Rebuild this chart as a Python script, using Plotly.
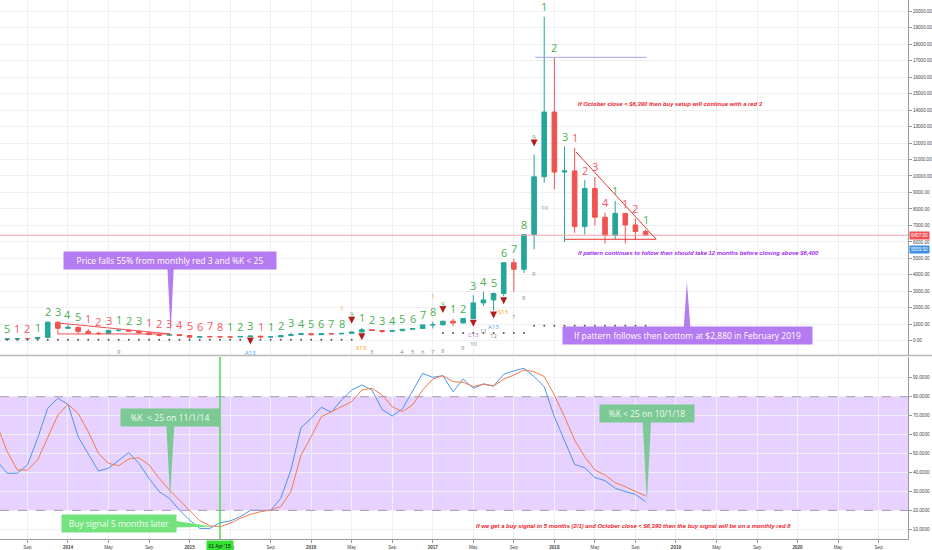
import plotly.graph_objects as go

# ---------------- data ----------------
month_idx = list(range(-7, 58))   # monthly bars, 0 = Jan 2014 (Jun 2013 .. Oct 2018)

opens = [129, 97, 106, 136, 133, 203, 1130, 755, 815, 570, 450, 445, 630, 640, 585, 480,
         387, 338, 375, 320, 217, 254, 244, 236, 230, 263, 284, 230, 236, 313, 377, 430,
         369, 437, 416, 448, 531, 673, 624, 574, 608, 700, 742, 963, 970, 1190, 1080, 1348,
         2300, 2480, 2870, 4735, 4340, 6450, 9950, 13880, 10240, 10310, 6930, 9240, 7500,
         6390, 7730, 7030, 6630]
highs = [130, 111, 139, 150, 215, 1163, 1163, 995, 860, 720, 550, 630, 680, 650, 600, 490,
         415, 457, 384, 320, 265, 300, 262, 248, 267, 316, 285, 245, 334, 502, 466, 463,
         447, 440, 468, 553, 780, 704, 626, 628, 720, 756, 975, 1153, 1200, 1350, 1350, 2760,
         2980, 2920, 4740, 4975, 6470, 11300, 19666, 17200, 11800, 11700, 9750, 9950, 7780,
         8490, 7750, 7410, 6750]
lows = [88, 65, 102, 100, 120, 197, 400, 730, 420, 440, 340, 420, 555, 565, 440, 375,
        275, 316, 300, 152, 212, 236, 213, 225, 221, 254, 162, 226, 235, 305, 350, 354,
        366, 395, 412, 439, 523, 604, 468, 567, 605, 678, 740, 752, 915, 890, 1060, 1340,
        2110, 1830, 2700, 2970, 4110, 5550, 9600, 9200, 6000, 6550, 6450, 7000, 5900,
        6150, 5900, 6120, 6350]
closes = [97, 106, 136, 133, 203, 1130, 755, 815, 570, 450, 445, 630, 640, 585, 480, 387,
          338, 375, 320, 217, 254, 244, 236, 230, 263, 284, 230, 236, 313, 377, 430, 369,
          437, 416, 448, 531, 673, 624, 574, 608, 700, 742, 963, 970, 1190, 1080, 1348, 2300,
          2480, 2870, 4735, 4340, 6450, 9950, 13880, 10240, 10310, 6930, 9240, 7500, 6390,
          7730, 7030, 6630, 6407]

stoch_k = [46, 39.6, 39.6, 44, 58, 73.9, 79.1, 76, 58.9, 50.1, 40.8, 42.2, 46.6, 50.5, 44.8,
           36.9, 29.9, 26.4, 20.2, 14.9, 10.5, 10.5, 13.5, 14.4, 16.7, 20, 20, 20, 26.4, 41.3,
           63.7, 68.6, 74.4, 71.8, 78.3, 83.5, 86.2, 83.5, 73.3, 69.8, 73.5, 82.6, 92.3, 90.2,
           91.1, 82.6, 89.3, 84.4, 86.7, 85.6, 91.8, 93.6, 95, 90.6, 85.3, 69.4, 57.1, 44.3,
           42.5, 37.3, 35.7, 31.7, 29.9, 28.5, 24.6]
stoch_d = [65, 51, 41.3, 41.3, 46.6, 58.9, 70.3, 76, 71.2, 61.5, 50.1, 44.8, 43.6, 47.1, 47.8,
           44, 36.9, 30.8, 25.5, 20.2, 14.6, 11.9, 11.4, 13.2, 15.8, 17.9, 19.3, 20.2, 22, 29.9,
           49.2, 58.9, 69.4, 72.1, 74.7, 77.4, 83.5, 84.4, 80.9, 74.7, 72.1, 75.6, 83.5, 89.3,
           91.1, 87.9, 87.6, 85.3, 86.7, 85.6, 89.3, 91.4, 94.1, 93.2, 90.6, 80.9, 69.4, 57.1,
           48.3, 41.3, 38.7, 34.6, 32.5, 30.2, 27.6]

# TD setup counts shown above the bars (g = sell-setup green, r = buy-setup red)
setup_text = ["", "5", "1", "2", "1", "2", "3", "4", "5", "1", "2", "3", "1", "2", "3",
              "1", "2", "3", "4", "5", "6", "7", "8", "1", "2", "3", "1", "1", "2", "3",
              "4", "5", "6", "7", "8", "", "1", "2", "3", "4", "5", "6", "7", "8", "",
              "1", "2", "3", "4", "5", "6", "7", "8", "", "1", "2", "3", "1", "2", "3",
              "4", "1", "1", "2", "1"]
setup_color = ["", "g", "r", "r", "g", "g", "g", "g", "g", "r", "r", "r", "g", "g", "g",
               "r", "r", "r", "r", "r", "r", "r", "r", "g", "g", "g", "r", "g", "g", "g",
               "g", "g", "g", "g", "g", "", "g", "g", "g", "g", "g", "g", "g", "g", "",
               "g", "g", "g", "g", "g", "g", "g", "g", "", "g", "g", "g", "r", "r", "r",
               "r", "g", "r", "r", "g"]

countdown_month = [5, 30, 33, 34, 35, 36, 37, 39, 40, 41, 42, 44, 45, 46, 47]
countdown_text = ["9", "3", "4", "5", "6", "7", "8", "9", "10", "11", "12", "7", "8", "9", "10"]
setup9_month = [28, 37, 46]
perfect_month = [27, 36]
signal13_month = [18, 29, 40, 42, 43]
signal13_text = ["A13", "S13", "C13", "A13", "S13"]
tdst_level = [65] * 36 + [None] * 8 + [468] * 9 + [915] * 12

tick_vals = list(range(-4, 81, 4))
tick_text = ["Sep", "<b>2014</b>", "May", "Sep", "<b>2015</b>", "May", "Sep", "<b>2016</b>",
             "May", "Sep", "<b>2017</b>", "May", "Sep", "<b>2018</b>", "May", "Sep",
             "<b>2019</b>", "May", "Sep", "<b>2020</b>", "May", "Sep"]
price_ticks = list(range(0, 20001, 1000))
stoch_ticks = list(range(10, 91, 10))
last_price = 6407.00
level_price = 5559.50

# ---------------- layout constants ----------------
W, H = 932, 550
X_RANGE = [-6.71, 82.9]
Y_RANGE = [-862, 20680]
S_RANGE = [4.9, 100.95]
XDOM = [0, 908 / 932]
MAIN_DOM = [0.3414, 1.0]
STO_DOM = [0.0, 0.3377]
PX = (Y_RANGE[1] - Y_RANGE[0]) / 355.0   # price units per pixel in main pane

GREEN = "#4caf50"
RED = "#ef5865"
FONT = "Open Sans"

pos = {m: i for i, m in enumerate(month_idx)}

fig = go.Figure()

fig.add_trace(go.Candlestick(
    x=month_idx, open=opens, high=highs, low=lows, close=closes,
    xaxis="x2", yaxis="y",
    increasing=dict(line=dict(color="#26a69a", width=1), fillcolor="#26a69a"),
    decreasing=dict(line=dict(color="#ef5350", width=1), fillcolor="#ef5350"),
    whiskerwidth=0, showlegend=False, hoverinfo="skip"))

# TDST dots
fig.add_trace(go.Scatter(x=month_idx, y=tdst_level, mode="markers", xaxis="x2", yaxis="y",
                         marker=dict(size=2, color="#555555"), showlegend=False, hoverinfo="skip"))

# arrows above setup 9 bars
fig.add_trace(go.Scatter(
    x=setup9_month, y=[highs[pos[m]] + 8 * PX for m in setup9_month],
    mode="markers", xaxis="x2", yaxis="y",
    marker=dict(symbol="arrow-down", size=7, color="#b71c1c"), showlegend=False, hoverinfo="skip"))
# arrows below 13 signals
fig.add_trace(go.Scatter(
    x=signal13_month, y=[lows[pos[m]] - 8 * PX for m in signal13_month],
    mode="markers", xaxis="x2", yaxis="y",
    marker=dict(symbol="arrow-down", size=7, color="#b71c1c"), showlegend=False, hoverinfo="skip"))

# stochastic
fig.add_trace(go.Scatter(x=month_idx, y=stoch_k, mode="lines", xaxis="x", yaxis="y2",
                         line=dict(color="#4f94ef", width=1), showlegend=False, hoverinfo="skip"))
fig.add_trace(go.Scatter(x=month_idx, y=stoch_d, mode="lines", xaxis="x", yaxis="y2",
                         line=dict(color="#f5794a", width=1), showlegend=False, hoverinfo="skip"))

ann = []
# setup numbers
for m, t, c in zip(month_idx, setup_text, setup_color):
    if t:
        ann.append(dict(x=m, y=highs[pos[m]], xref="x2", yref="y", text=t, showarrow=False,
                        yanchor="middle", yshift=10,
                        font=dict(family=FONT, size=11, color=GREEN if c == "g" else RED)))
for m in setup9_month:
    ann.append(dict(x=m, y=highs[pos[m]], xref="x2", yref="y", text="9", showarrow=False,
                    yanchor="middle", yshift=17, font=dict(family=FONT, size=6.5, color="#6f9f6f")))
for m in perfect_month:
    ann.append(dict(x=m, y=highs[pos[m]], xref="x2", yref="y", text="1", showarrow=False,
                    yanchor="middle", yshift=25, font=dict(family=FONT, size=6.5, color="#f0a030")))
for m, t in zip(countdown_month, countdown_text):
    yv = max(lows[pos[m]] - 25 * PX, Y_RANGE[0] + 3 * PX)
    ann.append(dict(x=m, y=yv, xref="x2", yref="y", text=t, showarrow=False,
                    yanchor="middle", font=dict(family=FONT, size=6, color="#8a8a8a")))
sig_col = {"A13": "#42a5f5", "S13": "#ff9800", "C13": "#ba68c8"}
for m, t in zip(signal13_month, signal13_text):
    ann.append(dict(x=m, y=lows[pos[m]], xref="x2", yref="y", text=t, showarrow=False,
                    yanchor="middle", yshift=-16, font=dict(family=FONT, size=6, color=sig_col[t])))

# callouts
def callout(x, y, text, bg, width, xref, yref, fc="#ffffff"):
    ann.append(dict(x=x, y=y, xref=xref, yref=yref, text=text, showarrow=False,
                    xanchor="center", yanchor="middle", bgcolor=bg, borderpad=3, width=width,
                    font=dict(family=FONT, size=8.5, color=fc)))

shapes = []
def wedge(pts, color, xref, yref):
    p = "M {},{} L {},{} L {},{} Z".format(pts[0][0], pts[0][1], pts[1][0], pts[1][1], pts[2][0], pts[2][1])
    shapes.append(dict(type="path", path=p, xref=xref, yref=yref, fillcolor=color,
                       line=dict(width=0), layer="above"))

PURPLE = "#b57bf2"
GBOX = "#7cc995"
GBRIGHT = "#73e37e"
wedge([(9.8, 4600), (10.45, 4600), (10.13, 410)], PURPLE, "x2", "y")
callout(10.07, 4842, "Price falls 55% from monthly red 3 and %K < 25", PURPLE, 206, "x2", "y")
wedge([(60.75, 600), (61.45, 600), (61.08, 3586)], PURPLE, "x2", "y")
callout(61.13, 334, "If pattern follows then bottom at $2,880 in February 2019", PURPLE, 243, "x2", "y")
wedge([(9.7, 66), (10.5, 66), (10.07, 26.4)], GBOX, "x", "y2")
callout(10.1, 68.84, "%K  < 25 on 11/1/14", GBOX, 92, "x", "y2", "#eefaf0")
wedge([(10.4, 14.6), (10.4, 11.0), (14.34, 11.4)], GBRIGHT, "x", "y2")
callout(5.05, 13.0, "Buy signal 5 months later", GBRIGHT, 108, "x", "y2", "#f4fff4")
wedge([(56.7, 68), (57.55, 68), (57.13, 24.6)], GBOX, "x", "y2")
callout(57.11, 71.06, "%K < 25 on 10/1/18", GBOX, 88, "x", "y2", "#eefaf0")

# italic notes
def note(x, y, text, color, xref, yref):
    ann.append(dict(x=x, y=y, xref=xref, yref=yref, text="<b><i>" + text + "</i></b>",
                    showarrow=False, xanchor="left", yanchor="middle",
                    font=dict(family="Liberation Sans", size=5.9, color=color)))

note(50.15, 14351, "If October close &lt; $6,390 then buy setup will continue with a red 3", "#f0202a", "x2", "y")
note(50.15, 5310, "If pattern continues to follow then should take 12 months before closing above $6,400", "#9b27f5", "x2", "y")
note(40.08, 11.93, "If we get a buy signal in 5 months (2/1) and October close &lt; $6,390 then the buy signal will be on a monthly red 8", "#f0202a", "x", "y2")

# price axis labels
ann.append(dict(x=XDOM[1], y=last_price, xref="paper", yref="y", text="{:.2f}".format(last_price),
                showarrow=False, xanchor="left", yanchor="middle", xshift=1, bgcolor="#f0525a",
                borderpad=1, font=dict(family="Liberation Sans", size=4.6, color="white")))
ann.append(dict(x=XDOM[1], y=level_price, xref="paper", yref="y", text="{:.2f}".format(level_price),
                showarrow=False, xanchor="left", yanchor="middle", xshift=1, bgcolor="#3d8fe0",
                borderpad=1, font=dict(family="Liberation Sans", size=4.6, color="white")))
# date label for the vertical marker
ann.append(dict(x=15, y=0, xref="x", yref="paper", text="01 Apr '15", showarrow=False,
                yanchor="top", yshift=-1, bgcolor="#33e233", borderpad=1.5,
                font=dict(family="Liberation Sans", size=5, color="#111111")))

# band & lines in stochastic pane
shapes.append(dict(type="rect", xref="x domain", yref="y2", x0=0, x1=1, y0=20, y1=80,
                   fillcolor="rgba(167,86,255,0.27)", line=dict(width=0), layer="below"))
for lv in (20, 80):
    shapes.append(dict(type="line", xref="x domain", yref="y2", x0=0, x1=1, y0=lv, y1=lv,
                       line=dict(color="#a896c0", width=1, dash="dash")))
shapes.append(dict(type="line", xref="x", yref="y2", x0=15, x1=15, y0=S_RANGE[0], y1=S_RANGE[1],
                   line=dict(color="#4ddd4d", width=1.5)))

# main pane drawings
shapes.append(dict(type="line", xref="x2 domain", yref="y", x0=0, x1=1, y0=last_price, y1=last_price,
                   line=dict(color="#f4a3ab", width=1)))
shapes.append(dict(type="line", xref="x2", yref="y", x0=46.1, x1=57.13, y0=highs[pos[48]], y1=highs[pos[48]],
                   line=dict(color="#a5a5ee", width=1)))
shapes.append(dict(type="line", xref="x2", yref="y", x0=50.15, x1=58.05, y0=11450, y1=6160,
                   line=dict(color="#e53935", width=1)))
shapes.append(dict(type="line", xref="x2", yref="y", x0=49.06, x1=58.05, y0=6160, y1=6160,
                   line=dict(color="#e53935", width=1)))
shapes.append(dict(type="line", xref="x2", yref="y", x0=-0.7, x1=10.07, y0=1062, y1=413,
                   line=dict(color="#f05050", width=1)))
shapes.append(dict(type="line", xref="x2", yref="y", x0=-1, x1=10.07, y0=413, y1=413,
                   line=dict(color="#f05050", width=1)))
# pane separator
shapes.append(dict(type="line", xref="paper", yref="paper", x0=0, x1=1, y0=0.3404, y1=0.3404,
                   line=dict(color="#b8b8b8", width=1.5)))

axis_common = dict(showgrid=True, gridcolor="#eef0f4", zeroline=False, showline=True,
                   linecolor="#9a9a9a", ticks="outside", ticklen=3, tickcolor="#9a9a9a",
                   tickfont=dict(family="Liberation Sans", size=4.6, color="#444444"))

fig.update_layout(
    width=W, height=H, margin=dict(l=0, r=0, t=0, b=11),
    paper_bgcolor="white", plot_bgcolor="white", showlegend=False, boxgap=0.35,
    xaxis=dict(domain=XDOM, anchor="y2", range=X_RANGE, tickmode="array", tickvals=tick_vals,
               ticktext=tick_text, rangeslider=dict(visible=False), **axis_common),
    xaxis2=dict(domain=XDOM, anchor="y", range=X_RANGE, matches="x", tickmode="array",
                tickvals=tick_vals, showticklabels=False, rangeslider=dict(visible=False),
                showgrid=True, gridcolor="#eef0f4", zeroline=False, showline=False, ticks=""),
    yaxis=dict(domain=MAIN_DOM, anchor="x2", side="right", range=Y_RANGE, tickmode="array",
               tickvals=price_ticks, tickformat=".2f", **axis_common),
    yaxis2=dict(domain=STO_DOM, anchor="x", side="right", range=S_RANGE, tickmode="array",
                tickvals=stoch_ticks, tickformat=".4f", **axis_common),
    annotations=ann, shapes=shapes,
)

fig.write_html("out.html", config={"displayModeBar": False},
               post_script="document.body.style.margin='0';document.body.style.overflow='hidden';")
